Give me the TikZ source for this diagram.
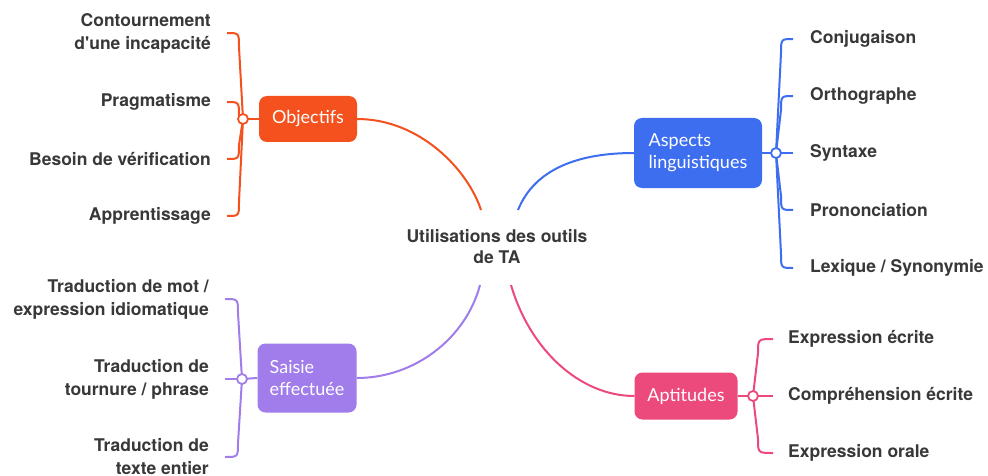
\documentclass[tikz,border=0pt]{standalone}
\usepackage{fontspec}
\setmainfont{Lato}
\newfontfamily\herosfont{TeX Gyre Heros}
\usetikzlibrary{calc}
\definecolor{cR}{HTML}{F4511E}
\definecolor{cB}{HTML}{3D6EF0}
\definecolor{cP}{HTML}{A07DEA}
\definecolor{cK}{HTML}{EC4A7C}
\definecolor{txt}{HTML}{383838}
\begin{document}
\begin{tikzpicture}[x=1pt,y=-1pt,
  leaf/.style={font=\herosfont\bfseries\fontsize{17.5}{23}\selectfont, text=txt, inner sep=0pt, align=right},
  leafR/.style={leaf, align=left},
  topic/.style={rounded corners=8pt, text=white, font=\fontsize{18}{22}\selectfont, align=left, inner sep=0pt},
  link/.style={line width=2pt},
  junc/.style={circle, draw, fill=white, line width=1.8pt, minimum size=10pt, inner sep=0pt}]
\useasboundingbox (0,0) rectangle (988,476);
\fill[white] (0,0) rectangle (988,476);

% centre
\node[font=\herosfont\bfseries\fontsize{17.5}{21}\selectfont, text=txt, align=center, inner sep=0pt] (ctr) at (497,247) {Utilisations des outils\\de TA};
\coordinate (sR) at (481,210);
\coordinate (sB) at (518,210);
\coordinate (sP) at (480,285);
\coordinate (sK) at (511,285);

% topic boxes
\node[topic, fill=cR, minimum width=98pt, minimum height=46pt] (obj) at (308,119) {Objectifs};
\node[topic, fill=cB, minimum width=128pt, minimum height=70pt] (asp) at (698,153) {Aspects\\linguistiques};
\node[topic, fill=cP, minimum width=99pt, minimum height=69pt] (sai) at (307,378) {Saisie\\effectuée};
\node[topic, fill=cK, minimum width=103pt, minimum height=47pt] (apt) at (686,396) {Aptitudes};

% junctions
\coordinate (J1) at (243,119);
\coordinate (J2) at (776,153);
\coordinate (J3) at (242,379);
\coordinate (J4) at (753,396);

% leaves
\node[leaf, anchor=east] (o1) at (211,33) {Contournement\\d'une incapacité};
\node[leaf, anchor=east] (o2) at (211,102) {Pragmatisme};
\node[leaf, anchor=east] (o3) at (211,159) {Besoin de vérification};
\node[leaf, anchor=east] (o4) at (211,216) {Apprentissage};

\node[leafR, anchor=west] (a1) at (810,39) {Conjugaison};
\node[leafR, anchor=west] (a2) at (810,96) {Orthographe};
\node[leafR, anchor=west] (a3) at (810,153) {Syntaxe};
\node[leafR, anchor=west] (a4) at (810,210) {Prononciation};
\node[leafR, anchor=west] (a5) at (810,268) {Lexique / Synonymie};

\node[leaf, anchor=east] (s1) at (209,299) {Traduction de mot /\\expression idiomatique};
\node[leaf, anchor=east] (s2) at (209,379) {Traduction de\\tournure / phrase};
\node[leaf, anchor=east] (s3) at (209,457) {Traduction de\\texte entier};

\node[leafR, anchor=west] (p1) at (788,339) {Expression écrite};
\node[leafR, anchor=west] (p2) at (788,396) {Compréhension écrite};
\node[leafR, anchor=west] (p3) at (788,453) {Expression orale};

% centre connectors
\draw[link, cR] (sR) .. controls (468,170) and (420,119) .. (obj.east);
\draw[link, cB] (sB) .. controls (535,168) and (580,153) .. (asp.west);
\draw[link, cP] (sP) .. controls (466,338) and (415,378) .. (sai.east);
\draw[link, cK] (sK) .. controls (530,350) and (580,396) .. (apt.west);

% junction to topic
\draw[link, cR] (J1) -- (obj.west);
\draw[link, cB] (J2) -- (asp.east);
\draw[link, cP] (J3) -- (sai.west);
\draw[link, cK] (J4) -- (apt.east);

% brackets
\foreach \c/\s in {o1/1,o2/1,o3/-1,o4/-1}
  \draw[link, cR] (J1) -- ($(J1 |- \c.east)+(-4,14*\s)$) .. controls ($(J1 |- \c.east)+(-4,0)$) .. ($(\c.east)+(16,0)$);
\foreach \c/\s in {s1/1,s2/0,s3/-1}
  \draw[link, cP] (J3) -- ($(J3 |- \c.east)+(-4,14*\s)$) .. controls ($(J3 |- \c.east)+(-4,0)$) .. ($(\c.east)+(16,0)$);
\foreach \c/\s in {a1/1,a2/1,a3/0,a4/-1,a5/-1}
  \draw[link, cB] (J2) -- ($(J2 |- \c.west)+(5,14*\s)$) .. controls ($(J2 |- \c.west)+(5,0)$) .. ($(\c.west)+(-17,0)$);
\foreach \c/\s in {p1/1,p2/0,p3/-1}
  \draw[link, cK] (J4) -- ($(J4 |- \c.west)+(5,14*\s)$) .. controls ($(J4 |- \c.west)+(5,0)$) .. ($(\c.west)+(-15,0)$);

\node[junc, draw=cR] at (J1) {};
\node[junc, draw=cB] at (J2) {};
\node[junc, draw=cP] at (J3) {};
\node[junc, draw=cK] at (J4) {};
\end{tikzpicture}
\end{document}
